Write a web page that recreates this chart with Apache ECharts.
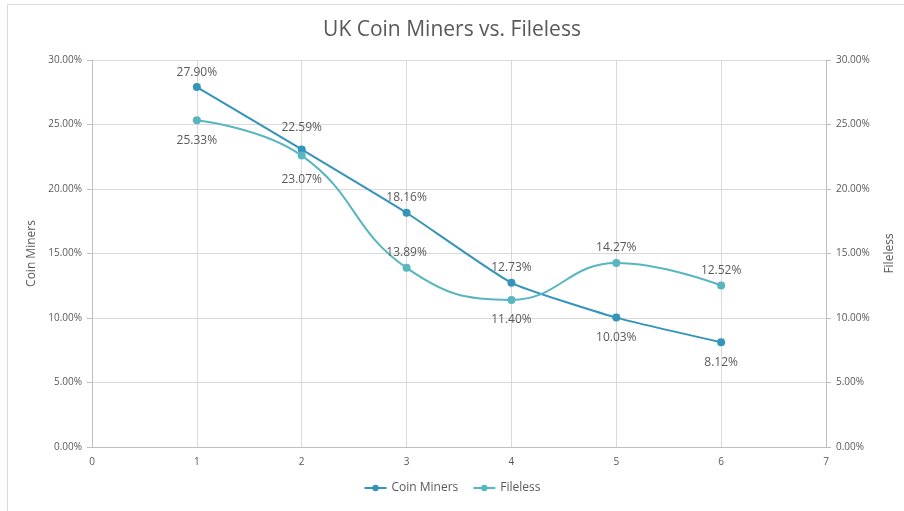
<!DOCTYPE html>
<html>
<head>
<meta charset="utf-8">
<script src="https://cdn.jsdelivr.net/npm/echarts@6/dist/echarts.min.js"></script>
<style>
  html, body { margin: 0; padding: 0; background: #fff; }
  #main { width: 904px; height: 511px; }
</style>
</head>
<body>
<div id="main"></div>
<script>
var xValues = [1, 2, 3, 4, 5, 6];
var coinMiners = [27.90, 23.07, 18.16, 12.73, 10.03, 8.12];
var fileless = [25.33, 22.59, 13.89, 11.40, 14.27, 12.52];
// where Excel put each data label
var coinLabelPos = ['top', 'bottom', 'top', 'top', 'bottom', 'bottom'];
var filelessLabelPos = ['bottom', 'top', 'top', 'bottom', 'top', 'top'];

var font = '"Open Sans", "Liberation Sans", sans-serif';

function buildData(vals, pos, extra) {
  var res = [];
  for (var i = 0; i < vals.length; i++) {
    var lab = { position: pos[i], distance: pos[i] == 'bottom' ? 10 : 5 };
    if (extra && extra[i]) lab.distance = extra[i];
    res.push({ value: [xValues[i], vals[i]], label: lab });
  }
  return res;
}

var myChart = echarts.init(document.getElementById('main'));
var pctFmt = function (v) { return v.toFixed(2) + '%'; };
var option = {
  animation: false,
  backgroundColor: '#fff',
  textStyle: { fontFamily: font },
  title: {
    text: 'UK Coin Miners vs. Fileless',
    left: 'center',
    top: 15,
    textStyle: { color: '#595959', fontSize: 21, fontWeight: 'normal', fontFamily: font }
  },
  legend: {
    bottom: 12,
    left: 'center',
    itemWidth: 22,
    itemHeight: 8,
    itemGap: 14,
    textStyle: { color: '#595959', fontSize: 12, fontFamily: font },
    data: ['Coin Miners', 'Fileless']
  },
  graphic: [{
    type: 'rect',
    shape: { x: 7.5, y: 4.5, width: 1000, height: 1000 },
    style: { fill: 'none', stroke: '#d9d9d9', lineWidth: 1 },
    silent: true
  }],
  grid: { left: 92, right: 77, top: 60, bottom: 64 },
  xAxis: {
    type: 'value',
    min: 0,
    max: 7,
    interval: 1,
    axisLine: { show: true, lineStyle: { color: '#bfbfbf' } },
    axisTick: { show: false },
    axisLabel: { color: '#595959', fontSize: 10, margin: 10 },
    splitLine: { show: true, lineStyle: { color: '#d9d9d9' } }
  },
  yAxis: [{
    type: 'value',
    name: 'Coin Miners',
    nameLocation: 'middle',
    nameGap: 52,
    nameTextStyle: { color: '#595959', fontSize: 12 },
    min: 0,
    max: 30,
    interval: 5,
    axisLine: { show: true, lineStyle: { color: '#bfbfbf' } },
    axisTick: { show: true, length: 5, lineStyle: { color: '#bfbfbf' } },
    axisLabel: { color: '#595959', fontSize: 10, formatter: pctFmt, margin: 10 },
    splitLine: { show: true, lineStyle: { color: '#d9d9d9' } }
  }, {
    type: 'value',
    name: 'Fileless',
    nameLocation: 'middle',
    nameGap: 58,
    nameRotate: 90,
    nameTextStyle: { color: '#595959', fontSize: 12 },
    position: 'right',
    min: 0,
    max: 30,
    interval: 5,
    axisLine: { show: true, lineStyle: { color: '#bfbfbf' } },
    axisTick: { show: true, length: 5, lineStyle: { color: '#bfbfbf' } },
    axisLabel: { color: '#595959', fontSize: 10, formatter: pctFmt, margin: 10 },
    splitLine: { show: false }
  }],
  series: [{
    name: 'Coin Miners',
    type: 'line',
    yAxisIndex: 0,
    smooth: 0.15,
    symbol: 'circle',
    symbolSize: 8,
    lineStyle: { width: 2, color: '#3494BA' },
    itemStyle: { color: '#3494BA' },
    label: {
      show: true,
      color: '#595959',
      fontSize: 12,
      formatter: function (p) { return p.value[1].toFixed(2) + '%'; }
    },
    data: buildData(coinMiners, coinLabelPos, [null, 20])
  }, {
    name: 'Fileless',
    type: 'line',
    yAxisIndex: 1,
    smooth: 0.45,
    symbol: 'circle',
    symbolSize: 8,
    lineStyle: { width: 2, color: '#58B6C0' },
    itemStyle: { color: '#58B6C0' },
    label: {
      show: true,
      color: '#595959',
      fontSize: 12,
      formatter: function (p) { return p.value[1].toFixed(2) + '%'; }
    },
    data: buildData(fileless, filelessLabelPos, [null, 18])
  }]
};
myChart.setOption(option);
</script>
</body>
</html>
